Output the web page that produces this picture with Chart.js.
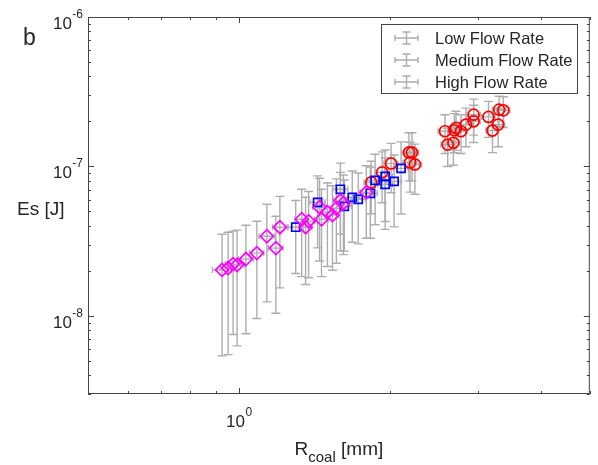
<!doctype html>
<html lang="en">
<head>
<meta charset="utf-8">
<title>Es vs R coal</title>
<style>
  * { margin: 0; padding: 0; }
  body { background: #fff; }
  .chartBox { width: 598px; height: 465px; }
</style>
</head>
<body>
<div class="chartBox"><canvas id="esChart" width="598" height="465"></canvas></div>
<script src="https://cdn.jsdelivr.net/npm/chart.js"></script>
<script>
// data (R in mm, Es in J, errors are +/- in linear units)
let seriesLabels = ['Low Flow Rate', 'Medium Flow Rate', 'High Flow Rate'];

let lowR   = [1.834, 1.928, 2.009, 2.181, 2.211, 2.191, 2.241, 2.573, 2.605, 2.674, 2.686, 2.706, 2.768, 2.832, 2.934, 2.934, 3.141, 3.199, 3.283, 3.298, 3.363];
let lowEs  = [7.82e-8, 9.12e-8, 1.047e-7, 1.24e-7, 1.24e-7, 1.063e-7, 1.031e-7, 1.72e-7, 1.40e-7, 1.439e-7, 1.746e-7, 1.811e-7, 1.72e-7, 1.905e-7, 2.22e-7, 2.005e-7, 2.145e-7, 1.738e-7, 1.905e-7, 2.40e-7, 2.373e-7];
let lowErrR  = [0.06, 0.06, 0.065, 0.07, 0.07, 0.07, 0.07, 0.08, 0.08, 0.08, 0.08, 0.08, 0.085, 0.085, 0.09, 0.09, 0.095, 0.095, 0.1, 0.1, 0.1];
let lowErrEs = [3.0e-8, 3.4e-8, 3.8e-8, 4.4e-8, 4.4e-8, 3.9e-8, 3.8e-8, 5.0e-8, 4.0e-8, 4.2e-8, 5.1e-8, 5.3e-8, 5.0e-8, 5.5e-8, 6.0e-8, 5.6e-8, 5.8e-8, 5.0e-8, 5.5e-8, 5.5e-8, 5.5e-8];

let medR   = [1.297, 1.434, 1.592, 1.621, 1.681, 1.728, 1.826, 1.867, 1.955, 1.955, 2.037, 2.103];
let medEs  = [3.92e-8, 5.75e-8, 7.03e-8, 5.41e-8, 6.21e-8, 6.03e-8, 6.61e-8, 8.07e-8, 8.58e-8, 7.59e-8, 7.94e-8, 9.7e-8];
let medErrR  = [0.045, 0.05, 0.055, 0.055, 0.06, 0.06, 0.06, 0.065, 0.065, 0.065, 0.07, 0.07];
let medErrEs = [2.0e-8, 2.9e-8, 3.5e-8, 2.7e-8, 3.1e-8, 3.0e-8, 3.3e-8, 4.0e-8, 4.3e-8, 3.8e-8, 4.0e-8, 4.9e-8];

let highR  = [0.925, 0.951, 0.973, 0.991, 1.032, 1.085, 1.136, 1.184, 1.206, 1.333, 1.357, 1.376, 1.447, 1.46, 1.50, 1.535, 1.563, 1.592, 1.614, 1.793];
let highEs = [2.03e-8, 2.09e-8, 2.22e-8, 2.19e-8, 2.40e-8, 2.63e-8, 3.41e-8, 2.84e-8, 3.92e-8, 4.43e-8, 3.92e-8, 4.3e-8, 5.33e-8, 4.43e-8, 4.94e-8, 4.72e-8, 5.25e-8, 5.93e-8, 5.67e-8, 6.71e-8];
let highErrR  = [0.04, 0.035, 0.035, 0.035, 0.035, 0.035, 0.04, 0.04, 0.04, 0.04, 0.04, 0.04, 0.045, 0.045, 0.045, 0.045, 0.045, 0.05, 0.05, 0.05];
let highErrEs = [1.49e-8, 1.54e-8, 1.47e-8, 1.56e-8, 1.64e-8, 1.67e-8, 2.17e-8, 1.8e-8, 2.38e-8, 2.6e-8, 2.3e-8, 2.5e-8, 3.0e-8, 2.6e-8, 2.8e-8, 2.7e-8, 3.0e-8, 3.2e-8, 3.1e-8, 3.4e-8];

let xTicks = [0.5, 0.6, 0.7, 0.8, 0.9, 1, 2, 3, 4, 5];
let yTicks = [3e-9, 4e-9, 5e-9, 6e-9, 7e-9, 8e-9, 9e-9,
              1e-8, 2e-8, 3e-8, 4e-8, 5e-8, 6e-8, 7e-8, 8e-8, 9e-8,
              1e-7, 2e-7, 3e-7, 4e-7, 5e-7, 6e-7, 7e-7, 8e-7, 9e-7, 1e-6];
let xMajor = [1];
let yMajor = [1e-8, 1e-7, 1e-6];

function points(xs, ys, exs, eys) {
  return xs.map((v, i) => ({ x: v, y: ys[i], ex: exs[i], ey: eys[i] }));
}

const FONT = "'Liberation Sans', Arial, sans-serif";
const AXIS = '#444';
const TXT = '#262626';
const BAR = '#adadad';

const errorBars = {
  id: 'errorBars',
  beforeDatasetsDraw(chart) {
    const { ctx, chartArea: a, scales: { x, y } } = chart;
    ctx.save();
    ctx.beginPath();
    ctx.rect(a.left, a.top, a.right - a.left, a.bottom - a.top);
    ctx.clip();
    ctx.strokeStyle = BAR;
    ctx.lineWidth = 1.4;
    chart.data.datasets.forEach(ds => {
      ds.data.forEach(p => {
        const px = x.getPixelForValue(p.x);
        const py = y.getPixelForValue(p.y);
        const t = y.getPixelForValue(p.y + p.ey);
        const b = y.getPixelForValue(Math.max(p.y - p.ey, 1e-12));
        const l = x.getPixelForValue(p.x - p.ex);
        const r = x.getPixelForValue(p.x + p.ex);
        ctx.beginPath();
        ctx.moveTo(px, t); ctx.lineTo(px, b);
        ctx.moveTo(px - 4.5, t); ctx.lineTo(px + 4.5, t);
        ctx.moveTo(px - 4.5, b); ctx.lineTo(px + 4.5, b);
        ctx.moveTo(l, py); ctx.lineTo(r, py);
        ctx.moveTo(l, py - 3); ctx.lineTo(l, py + 3);
        ctx.moveTo(r, py - 3); ctx.lineTo(r, py + 3);
        ctx.stroke();
      });
    });
    ctx.restore();
  }
};

function drawPow(ctx, exp, left, base) {
  ctx.font = '17px ' + FONT;
  ctx.fillText('10', left, base);
  const w = ctx.measureText('10').width;
  ctx.font = '12px ' + FONT;
  ctx.fillText(exp, left + w + 0.5, base - 11);
}

function powWidth(ctx, exp) {
  ctx.font = '17px ' + FONT;
  const w = ctx.measureText('10').width;
  ctx.font = '12px ' + FONT;
  return w + 0.5 + ctx.measureText(exp).width;
}

const frame = {
  id: 'frame',
  afterDraw(chart) {
    const { ctx, chartArea: a, scales: { x, y } } = chart;
    ctx.save();
    ctx.strokeStyle = AXIS;
    ctx.lineWidth = 1;
    ctx.strokeRect(a.left + 0.5, a.top + 0.5, a.right - a.left - 1, a.bottom - a.top - 1);

    // inward ticks on all four sides
    ctx.beginPath();
    xTicks.forEach(v => {
      const px = Math.round(x.getPixelForValue(v)) + 0.5;
      const len = xMajor.includes(v) ? 6 : 3;
      ctx.moveTo(px, a.bottom); ctx.lineTo(px, a.bottom - len);
      ctx.moveTo(px, a.top); ctx.lineTo(px, a.top + len);
    });
    yTicks.forEach(v => {
      const py = Math.round(y.getPixelForValue(v)) + 0.5;
      const len = yMajor.includes(v) ? 6 : 3;
      ctx.moveTo(a.left, py); ctx.lineTo(a.left + len, py);
      ctx.moveTo(a.right, py); ctx.lineTo(a.right - len, py);
    });
    ctx.stroke();

    // tick labels
    ctx.fillStyle = TXT;
    ctx.textAlign = 'left';
    ctx.textBaseline = 'alphabetic';
    yMajor.forEach(v => {
      const exp = String(Math.round(Math.log10(v)));
      const py = y.getPixelForValue(v);
      drawPow(ctx, exp, 83 - powWidth(ctx, exp), py + 12);
    });
    xMajor.forEach(v => {
      const exp = String(Math.round(Math.log10(v)));
      const px = x.getPixelForValue(v);
      drawPow(ctx, exp, px - powWidth(ctx, exp) / 2, a.bottom + 33);
    });

    // axis titles and panel letter
    ctx.font = '19px ' + FONT;
    ctx.fillText('Es [J]', 17, 215);
    ctx.font = '23px ' + FONT;
    ctx.fillText('b', 23, 45);

    ctx.font = '19px ' + FONT;
    const wR = ctx.measureText('R').width;
    ctx.font = '15px ' + FONT;
    const wSub = ctx.measureText('coal').width;
    ctx.font = '19px ' + FONT;
    const wU = ctx.measureText(' [mm]').width;
    let sx = (a.left + a.right) / 2 - (wR + wSub + wU) / 2;
    ctx.fillText('R', sx, 455);
    ctx.font = '15px ' + FONT;
    ctx.fillText('coal', sx + wR, 462);
    ctx.font = '19px ' + FONT;
    ctx.fillText(' [mm]', sx + wR + wSub, 455);

    // legend
    const lx = 381, ly = 24, lw = 196, lh = 69;
    ctx.fillStyle = '#fff';
    ctx.fillRect(lx, ly, lw, lh);
    ctx.strokeStyle = AXIS;
    ctx.strokeRect(lx + 0.5, ly + 0.5, lw, lh);
    seriesLabels.forEach((txt, i) => {
      const yc = 38 + i * 22;
      ctx.strokeStyle = BAR;
      ctx.lineWidth = 1.4;
      ctx.beginPath();
      ctx.moveTo(395, yc); ctx.lineTo(418, yc);
      ctx.moveTo(395, yc - 3); ctx.lineTo(395, yc + 3);
      ctx.moveTo(418, yc - 3); ctx.lineTo(418, yc + 3);
      ctx.moveTo(406.5, yc - 6); ctx.lineTo(406.5, yc + 6);
      ctx.moveTo(402.5, yc - 6); ctx.lineTo(410.5, yc - 6);
      ctx.moveTo(402.5, yc + 6); ctx.lineTo(410.5, yc + 6);
      ctx.stroke();
      ctx.fillStyle = TXT;
      ctx.font = '16.5px ' + FONT;
      ctx.fillText(txt, 435, yc + 6);
    });
    ctx.restore();
  }
};

const data = {
  datasets: [
    {
      label: seriesLabels[0],
      data: points(lowR, lowEs, lowErrR, lowErrEs),
      pointStyle: 'circle',
      pointRadius: 5.5,
      pointBorderWidth: 1.7,
      borderColor: '#ff0000',
      backgroundColor: 'rgba(0,0,0,0)',
      order: 3
    },
    {
      label: seriesLabels[1],
      data: points(medR, medEs, medErrR, medErrEs),
      pointStyle: 'rect',
      pointRadius: 5.7,
      pointBorderWidth: 1.7,
      borderColor: '#0000ff',
      backgroundColor: 'rgba(0,0,0,0)',
      order: 2
    },
    {
      label: seriesLabels[2],
      data: points(highR, highEs, highErrR, highErrEs),
      pointStyle: 'rectRot',
      pointRadius: 6.5,
      pointBorderWidth: 1.7,
      borderColor: '#ff00ff',
      backgroundColor: 'rgba(0,0,0,0)',
      order: 1
    }
  ]
};

const config = {
  type: 'scatter',
  data,
  options: {
    responsive: false,
    animation: false,
    devicePixelRatio: 1,
    layout: { padding: { left: 88, top: 17, right: 8, bottom: 71 } },
    plugins: { legend: { display: false }, tooltip: { enabled: false } },
    scales: {
      x: {
        type: 'logarithmic', min: 0.5, max: 5,
        grid: { display: false, drawTicks: false },
        border: { display: false },
        ticks: { display: false },
        afterBuildTicks: s => { s.ticks = xTicks.map(v => ({ value: v })); }
      },
      y: {
        type: 'logarithmic', min: 3e-9, max: 1e-6,
        grid: { display: false, drawTicks: false },
        border: { display: false },
        ticks: { display: false },
        afterBuildTicks: s => { s.ticks = yTicks.map(v => ({ value: v })); }
      }
    }
  },
  plugins: [errorBars, frame]
};

const esChart = new Chart(document.getElementById('esChart'), config);
</script>
</body>
</html>
